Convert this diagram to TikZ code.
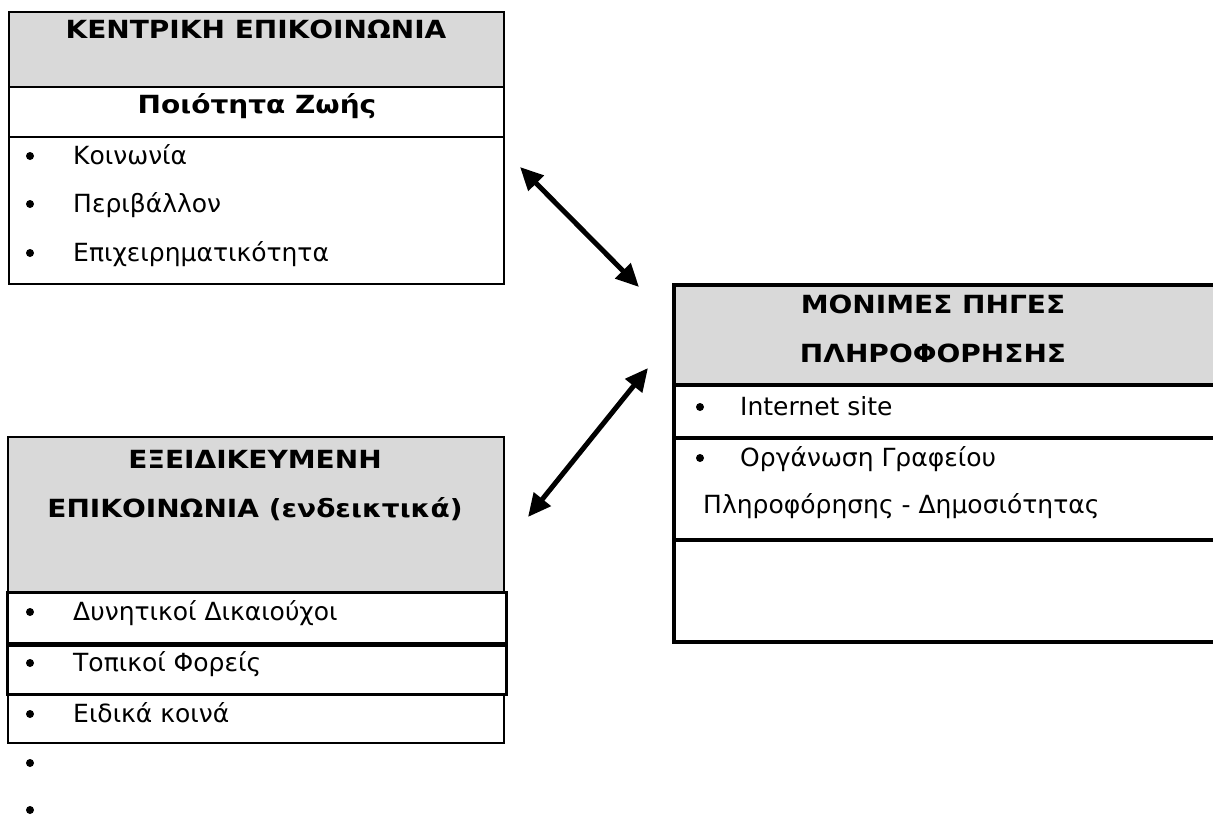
\documentclass[tikz,border=0pt]{standalone}
\usepackage{fontspec}
\setmainfont{DejaVu Sans}
\newfontfamily\ttlfont[FakeStretch=1.12]{DejaVu Sans Bold}
\usetikzlibrary{arrows.meta}
\definecolor{hdrgray}{HTML}{D9D9D9}
\begin{document}
\begin{tikzpicture}[x=1pt,y=-1pt,
  hdr/.style={fill=hdrgray},
  thinbox/.style={line width=1.5pt},
  midbox/.style={line width=3pt},
  thickbox/.style={line width=4pt},
  txt/.style={inner sep=0pt, anchor=base west, font=\fontsize{25}{30}\selectfont},
  ttl/.style={inner sep=0pt, anchor=base, font=\ttlfont\fontsize{25}{30}\selectfont},
  bul/.style={circle, fill=black, inner sep=0pt, minimum size=8pt},
  dbl/.style={line width=5pt, {Triangle[length=23pt,width=21pt]}-{Triangle[length=23pt,width=21pt]}}
]
\useasboundingbox (0,0) rectangle (1213,816);

% Box 1
\draw[hdr, thinbox] (9,12) rectangle (504,87);
\draw[thinbox] (9,87) rectangle (504,137);
\draw[thinbox] (9,137) rectangle (504,284);
\node[ttl] (t1) at (256,39) {ΚΕΝΤΡΙΚΗ ΕΠΙΚΟΙΝΩΝΙΑ};
\node[ttl] (t1b) at (257,113) {Ποιότητα Ζωής};
\node[bul] (b11) at (30,156) {};
\node[txt] (i11) at (73,164) {Κοινωνία};
\node[bul] (b12) at (30,204) {};
\node[txt] (i12) at (73,212) {Περιβάλλον};
\node[bul] (b13) at (30,253) {};
\node[txt] (i13) at (73,261) {Επιχειρηματικότητα};

% Box 2
\draw[hdr, thinbox] (8,437) rectangle (504,592);
\draw[midbox] (7,592) rectangle (506,643);
\draw[midbox] (7,645) rectangle (506,694);
\draw[thinbox] (8,694) rectangle (504,743);
\node[ttl] (t2a) at (255,468) {ΕΞΕΙΔΙΚΕΥΜΕΝΗ};
\node[ttl] (t2b) at (255,517) {ΕΠΙΚΟΙΝΩΝΙΑ (ενδεικτικά)};
\node[bul] (b21) at (30,612) {};
\node[txt] (i21) at (73,620) {Δυνητικοί Δικαιούχοι};
\node[bul] (b22) at (30,663) {};
\node[txt] (i22) at (73,671) {Τοπικοί Φορείς};
\node[bul] (b23) at (30,714) {};
\node[txt] (i23) at (73,722) {Ειδικά κοινά};
\node[bul] (b24) at (30,763) {};
\node[bul] (b25) at (30,810) {};

% Box 3
\draw[hdr, thickbox] (674,285) rectangle (1225,385);
\draw[thickbox] (674,385) rectangle (1225,438);
\draw[thickbox] (674,438) rectangle (1225,540);
\draw[thickbox] (674,540) rectangle (1225,642);
\node[ttl] (t3a) at (933,313) {ΜΟΝΙΜΕΣ ΠΗΓΕΣ};
\node[ttl] (t3b) at (933,362) {ΠΛΗΡΟΦΟΡΗΣΗΣ};
\node[bul] (b31) at (700,407) {};
\node[txt] (i31) at (740,415) {Internet site};
\node[bul] (b32) at (700,458) {};
\node[txt] (i32) at (740,466) {Οργάνωση Γραφείου};
\node[txt] (i33) at (703,513) {Πληροφόρησης - Δημοσιότητας};

% Arrows
\coordinate (a1s) at (520,167);
\coordinate (a1e) at (639,287);
\coordinate (a2s) at (648,368);
\coordinate (a2e) at (528,517);
\draw[dbl] (a1s) -- (a1e);
\draw[dbl] (a2s) -- (a2e);
\end{tikzpicture}
\end{document}
